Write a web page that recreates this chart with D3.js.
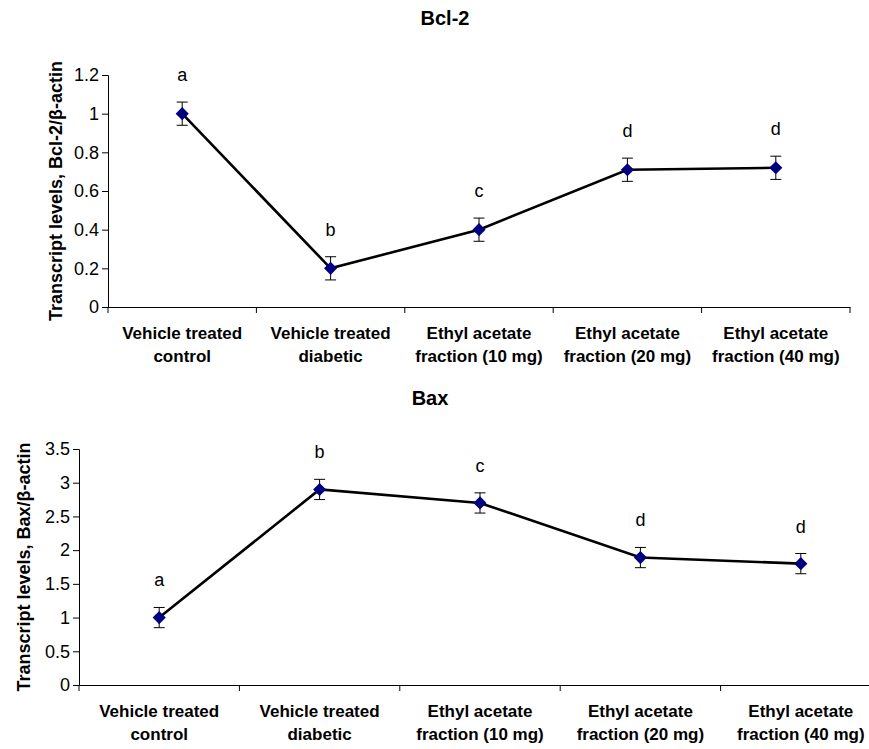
<!DOCTYPE html>
<html><head><meta charset="utf-8">
<script src="https://cdn.jsdelivr.net/npm/d3@7"></script>
<style>body{margin:0;background:#fff}svg{display:block;font-family:"Liberation Sans",Arial,sans-serif}</style>
</head><body>
<svg id="c" width="869" height="749"></svg>
<script>
const categories = [["Vehicle treated","control"],["Vehicle treated","diabetic"],["Ethyl acetate","fraction (10 mg)"],["Ethyl acetate","fraction (20 mg)"],["Ethyl acetate","fraction (40 mg)"]];
const bcl2Values = [1.0, 0.2, 0.4, 0.71, 0.72];
const bcl2Errors = [0.06, 0.06, 0.06, 0.06, 0.06];
const bcl2Letters = ["a","b","c","d","d"];
const bcl2Ticks = [0, 0.2, 0.4, 0.6, 0.8, 1, 1.2];
const baxValues = [1.0, 2.9, 2.7, 1.89, 1.8];
const baxErrors = [0.15, 0.15, 0.15, 0.15, 0.15];
const baxLetters = ["a","b","c","d","d"];
const baxTicks = [0, 0.5, 1, 1.5, 2, 2.5, 3, 3.5];

const svg = d3.select("#c");

function panel(o){
  const g = svg.append("g");
  const x = d3.scaleBand().domain(d3.range(categories.length)).range([o.x0, o.x1]);
  const y = d3.scaleLinear().domain([0, o.ymax]).range([o.y0, o.y1]);
  // y axis
  const ya = d3.axisLeft(y).tickValues(o.ticks).tickSize(6).tickPadding(3).tickFormat(d=>String(d));
  const yg = g.append("g").attr("transform",`translate(${o.x0},0)`).call(ya);
  yg.attr("font-size",null).attr("font-family",null);
  yg.select(".domain").attr("stroke","#000").attr("stroke-width",1);
  yg.selectAll("text").style("font-size","18px").attr("fill","#000");
  // x axis
  const xa = d3.axisBottom(x).tickSize(0).tickFormat("");
  const xg = g.append("g").attr("transform",`translate(0,${o.y0})`).call(xa);
  xg.select(".domain").attr("stroke","#000").attr("stroke-width",1);
  const bounds = x.domain().map(i=>x(i)).concat([o.x1]);
  g.selectAll("line.xt").data(bounds).enter().append("line")
    .attr("x1",d=>d).attr("x2",d=>d).attr("y1",o.y0).attr("y2",o.y0+6).attr("stroke","#000");
  // x labels
  const lab = g.selectAll("text.xl").data(categories).enter().append("text")
    .attr("text-anchor","middle").attr("font-weight","bold").style("font-size","17px")
    .attr("transform",(d,i)=>`translate(${x(i)+x.bandwidth()/2},${o.y0+32})`);
  lab.each(function(d){
    const t=d3.select(this);
    d.forEach((s,k)=>t.append("tspan").attr("x",0).attr("dy",k?23:0).text(s));
  });
  // line
  const cx = i=>x(i)+x.bandwidth()/2;
  g.append("path").datum(o.values).attr("fill","none").attr("stroke","#000").attr("stroke-width",2.6)
    .attr("d", d3.line().x((d,i)=>cx(i)).y(d=>y(d)));
  // error bars
  const eb = g.selectAll("g.eb").data(o.values).enter().append("g");
  eb.append("line").attr("x1",(d,i)=>cx(i)).attr("x2",(d,i)=>cx(i))
    .attr("y1",(d,i)=>y(d+o.errors[i])).attr("y2",(d,i)=>y(d-o.errors[i])).attr("stroke","#000");
  [1,-1].forEach(s=>{
    eb.append("line").attr("x1",(d,i)=>cx(i)-5.5).attr("x2",(d,i)=>cx(i)+5.5)
      .attr("y1",(d,i)=>y(d+s*o.errors[i])).attr("y2",(d,i)=>y(d+s*o.errors[i])).attr("stroke","#000");
  });
  // markers
  g.selectAll("path.m").data(o.values).enter().append("path")
    .attr("d", d3.symbol().type(d3.symbolDiamond2).size(110))
    .attr("transform",(d,i)=>`translate(${cx(i)},${y(d)})`)
    .attr("fill","#000080");
  // letters
  g.selectAll("text.lt").data(o.values).enter().append("text")
    .attr("x",(d,i)=>cx(i)).attr("y",(d,i)=>y(d+o.errors[i])-21)
    .attr("text-anchor","middle").style("font-size","18px").text((d,i)=>o.letters[i]);
  // title
  g.append("text").attr("x",o.tx).attr("y",o.ty).attr("text-anchor","middle")
    .attr("font-weight","bold").style("font-size","20px").text(o.title);
  // y title
  g.append("text").attr("transform",`translate(${o.ytx},${(o.y0+o.y1)/2}) rotate(-90)`)
    .attr("text-anchor","middle").attr("font-weight","bold").style("font-size","18px").text(o.ytitle);
}

panel({x0:108,x1:850,y0:307,y1:75,ymax:1.2,ticks:bcl2Ticks,values:bcl2Values,errors:bcl2Errors,letters:bcl2Letters,
  title:"Bcl-2",tx:445,ty:25,ytitle:"Transcript levels, Bcl-2/β-actin",ytx:62});
panel({x0:79,x1:881,y0:685,y1:449,ymax:3.5,ticks:baxTicks,values:baxValues,errors:baxErrors,letters:baxLetters,
  title:"Bax",tx:430,ty:405,ytitle:"Transcript levels, Bax/β-actin",ytx:30});
</script>
</body></html>
